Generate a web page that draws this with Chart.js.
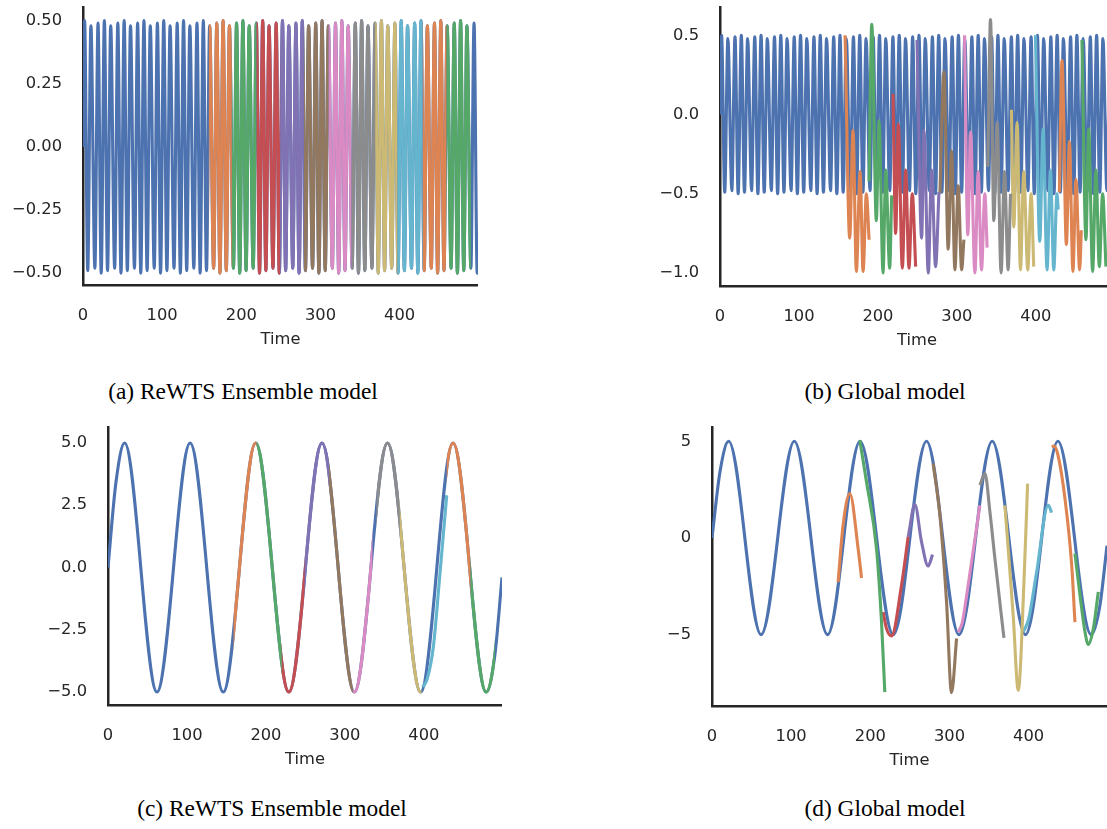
<!DOCTYPE html>
<html>
<head>
<meta charset="utf-8">
<script src="https://cdn.jsdelivr.net/npm/chart.js@4.4.1/dist/chart.umd.min.js"></script>
<style>
  html, body { margin: 0; padding: 0; width: 1107px; height: 829px; overflow: hidden; background: #fff; }
  canvas { position: absolute; }
  .cap {
    position: absolute; width: 400px; text-align: center; white-space: nowrap;
    font-family: "Liberation Serif", serif; font-size: 23.4px; line-height: 1; color: #000;
  }
</style>
</head>
<body>
<canvas id="pa"></canvas>
<canvas id="pb"></canvas>
<canvas id="pc"></canvas>
<canvas id="pd"></canvas>
<div class="cap" style="left:43px; top:380px">(a) ReWTS Ensemble model</div>
<div class="cap" style="left:685px; top:380px">(b) Global model</div>
<div class="cap" style="left:72px; top:797px">(c) ReWTS Ensemble model</div>
<div class="cap" style="left:685px; top:797px">(d) Global model</div>
<script>
// tick values
const timeTicks = [0, 100, 200, 300, 400];
const aTicks = [-0.5, -0.25, 0, 0.25, 0.5];
const bTicks = [-1, -0.5, 0, 0.5];
const cTicks = [-5, -2.5, 0, 2.5, 5];
const dTicks = [-5, 0, 5];

// fast sine (amplitude 0.5): turning points of the series, start and end
const fastT = [
  0,
  2, 6, 10, 15, 19, 23, 27, 31, 35, 40,
  44, 48, 52, 56, 60, 65, 69, 73, 77, 81,
  85, 90, 94, 98, 102, 106, 110, 115, 119, 123,
  127, 131, 135, 140, 144, 148, 152, 156, 160, 165,
  169, 173, 177, 181, 185, 190, 194, 198, 202, 206,
  210, 215, 219, 223, 227, 231, 235, 240, 244, 248,
  252, 256, 260, 265, 269, 273, 277, 281, 285, 290,
  294, 298, 302, 306, 310, 315, 319, 323, 327, 331,
  335, 340, 344, 348, 352, 356, 360, 365, 369, 373,
  377, 381, 385, 390, 394, 398, 402, 406, 410, 415,
  419, 423, 427, 431, 435, 440, 444, 448, 452, 456,
  460, 465, 469, 473, 477, 481, 485, 490, 494, 498,
  499
];
const fastY = [
  0,
  0.50, -0.49, 0.48, -0.48, 0.49, -0.50, 0.50, -0.49, 0.48, -0.48, 0.49, -0.50,
  0.50, -0.49, 0.48, -0.48, 0.49, -0.50, 0.50, -0.49, 0.48, -0.48, 0.49, -0.50,
  0.50, -0.49, 0.48, -0.48, 0.49, -0.50, 0.50, -0.49, 0.48, -0.48, 0.49, -0.50,
  0.50, -0.49, 0.48, -0.48, 0.49, -0.50, 0.50, -0.49, 0.48, -0.48, 0.49, -0.50,
  0.50, -0.49, 0.48, -0.48, 0.49, -0.50, 0.50, -0.49, 0.48, -0.48, 0.49, -0.50,
  0.50, -0.49, 0.48, -0.48, 0.49, -0.50, 0.50, -0.49, 0.48, -0.48, 0.49, -0.50,
  0.50, -0.49, 0.48, -0.48, 0.49, -0.50, 0.50, -0.49, 0.48, -0.48, 0.49, -0.50,
  0.50, -0.49, 0.48, -0.48, 0.49, -0.50, 0.50, -0.49, 0.48, -0.48, 0.49, -0.50,
  0.50, -0.49, 0.48, -0.48, 0.49, -0.50, 0.50, -0.49, 0.48, -0.48, 0.49, -0.50,
  0.50, -0.49, 0.48, -0.48, 0.49, -0.50, 0.50, -0.49, 0.48, -0.48, 0.49, -0.50,
  -0.34
];

// slow sine (amplitude 5)
const slowT = [0, 10, 21, 62, 104, 146, 187, 229, 271, 312, 354, 396, 437, 479, 490, 499];
const slowY = [0, 3.4, 5, -5, 5, -5, 5, -5, 5, -5, 5, -5, 5, -5, -3.5, -0.4];

// ensemble forecasts sit on the series: time windows only
const aWin = [[159, 188], [188, 219], [219, 249], [249, 279], [279, 310], [310, 339],
              [339, 369], [369, 397], [397, 429], [429, 459], [459, 490]];
const cWin = [[159, 188], [188, 220], [219, 249], [249, 280], [279, 310], [310, 335],
              [340, 369], [369, 397], [398, 429], [429, 459], [459, 490]];
// the cyan ensemble forecast in (c) lags the series
const cCyanT = [398.5, 404, 412, 420, 429];
const cCyanY = [-4.8, -4.5, -3.2, -0.4, 2.9];

// global model forecasts, fast series
const bFcT = [
  [158.4, 164.3, 168.5, 172.7, 177.4, 181.2, 185.4, 188.8],
  [188.8, 192.2, 198.0, 201.4, 206.5, 209.9, 214.9, 217.4],
  [219.1, 222.5, 225.8, 230.9, 235.1, 239.3, 243.5, 247.8],
  [249.5, 255.4, 258.3, 263.8, 268.0, 273.0, 277.3],
  [278.5, 283.6, 289.0, 293.3, 297.5, 301.7, 306.0, 308.9],
  [309.7, 313.9, 317.3, 322.8, 327.0, 331.2, 335.4, 338.3],
  [339.2, 342.6, 346.8, 351.0, 356.0, 360.3, 364.9, 367.9],
  [369.1, 372.0, 376.3, 380.5, 384.7, 389.8, 394.0, 397.3],
  [399.5, 405.0, 409.2, 414.2, 418.5, 422.7, 426.8, 428.3],
  [429.8, 433.2, 438.7, 442.5, 447.0, 450.8, 455.5, 457.6],
  [458.4, 463.5, 466.9, 471.9, 476.1, 480.4, 484.6, 488.8]
];
const bFcY = [
  [0.50, -0.78, -0.10, -0.99, -0.36, -0.99, -0.50, -0.79],
  [-0.42, 0.57, -0.67, -0.04, -1.00, -0.35, -0.97, -0.51],
  [0.13, -0.75, -0.06, -0.97, -0.35, -0.97, -0.50, -0.96],
  [0.47, -0.78, -0.10, -1.00, -0.35, -0.96, -0.49],
  [-0.50, 0.27, -0.85, -0.23, -0.98, -0.45, -0.98, -0.79],
  [0.50, -0.76, -0.11, -1.00, -0.36, -0.98, -0.50, -0.84],
  [-0.33, 0.60, -0.67, -0.05, -1.00, -0.36, -0.98, -0.50],
  [0.03, -0.71, -0.05, -0.98, -0.36, -0.98, -0.50, -0.96],
  [0.50, -0.80, -0.09, -0.98, -0.35, -0.98, -0.50, -0.60],
  [-0.49, 0.34, -0.82, -0.17, -0.99, -0.41, -0.98, -0.73],
  [0.47, -0.79, -0.09, -0.99, -0.35, -0.96, -0.50, -0.96]
];

// global model forecasts, slow series
const dFcT = [
  [159.3, 165.6, 174.1, 184.6, 188.9],
  [186.7, 195.2, 207.8, 214.1, 218.3],
  [216.2, 220.5, 226.8, 239.4, 247.8],
  [247.8, 256.3, 264.7, 273.1, 278.6],
  [279.4, 287.9, 296.3, 302.6, 309.0],
  [311.0, 316.0, 323.6, 338.4],
  [338.4, 344.8, 351.1, 357.4, 368.8],
  [370.0, 380.5, 386.9, 394.1, 398.7],
  [393.2, 400.0, 410.1, 424.8, 429.1],
  [429.1, 432.0, 437.0, 445.9, 454.4, 458.5],
  [458.5, 464.9, 471.2, 475.3, 481.7, 488.0]
];
const dFcY = [
  [-2.28, 0.66, 2.30, -0.55, -2.07],
  [5.05, 2.90, -0.55, -4.30, -7.97],
  [-3.83, -4.69, -5.07, -2.45, 0.05],
  [0.05, 1.73, -0.20, -1.45, -0.86],
  [3.85, 1.17, -3.31, -8.00, -5.20],
  [-4.86, -4.40, -2.45, 1.69],
  [2.73, 3.33, 1.35, -1.07, -5.17],
  [1.69, -4.00, -7.88, -2.28, 2.81],
  [-4.86, -4.20, -1.76, 1.69, 1.31],
  [4.71, 4.75, 4.30, 2.04, -1.41, -4.35],
  [-0.81, -2.96, -4.86, -5.51, -4.69, -2.79]
];

const deep = {
  blue: '#4C72B0', orange: '#DD8452', green: '#55A868', red: '#C44E52', purple: '#8172B3',
  brown: '#937860', pink: '#DA8BC3', gray: '#8C8C8C', olive: '#CCB974', cyan: '#64B5CD'
};
const fcColors = ['orange', 'green', 'red', 'purple', 'brown', 'pink', 'gray', 'olive', 'cyan', 'orange', 'green'];
const ink = '#262626';
const tickFont = { family: 'DejaVu Sans', size: 16.3 };

const pts = (ts, ys) => ts.map((t, i) => ({ x: t, y: ys[i] }));

function line(data, color, extra) {
  return Object.assign({
    data, borderColor: color, borderWidth: 3.1, pointRadius: 0, fill: false,
    cubicInterpolationMode: 'monotone', borderJoinStyle: 'round', order: 0
  }, extra || {});
}

// draws a dataset only inside its [t0, t1] time window
const windowClip = {
  id: 'windowClip',
  beforeDatasetDraw(chart, args) {
    const w = chart.data.datasets[args.index].window;
    if (!w) return;
    const xs = chart.scales.x, area = chart.chartArea, ctx = chart.ctx;
    const x0 = xs.getPixelForValue(w[0]), x1 = xs.getPixelForValue(w[1]);
    ctx.save();
    ctx.beginPath();
    ctx.rect(x0, area.top - 10, x1 - x0, area.bottom - area.top + 20);
    ctx.clip();
  },
  afterDatasetDraw(chart, args) {
    if (chart.data.datasets[args.index].window) chart.ctx.restore();
  }
};

function panel(id, box, y, datasets) {
  const W = 75, H = 65;
  const cv = document.getElementById(id);
  cv.width = box.right - box.left + W;
  cv.height = box.bottom - box.top + H;
  cv.style.left = (box.left - W) + 'px';
  cv.style.top = box.top + 'px';
  new Chart(cv, {
    type: 'line',
    data: { datasets },
    plugins: [windowClip],
    options: {
      responsive: false,
      animation: false,
      devicePixelRatio: 1,
      layout: { padding: 0 },
      plugins: { legend: { display: false }, tooltip: { enabled: false } },
      scales: {
        x: {
          type: 'linear', min: 0, max: 499,
          grid: { display: false, drawTicks: false },
          border: { color: ink, width: 2.5 },
          ticks: { padding: 21, maxRotation: 0, autoSkip: false, color: ink, font: tickFont },
          title: { display: true, text: 'Time', color: ink, font: tickFont, padding: 0 },
          afterBuildTicks(s) { s.ticks = timeTicks.map(v => ({ value: v })); },
          afterFit(s) { s.height = H; s.paddingLeft = 0; s.paddingRight = 0; }
        },
        y: {
          type: 'linear', min: y.min, max: y.max,
          grid: { display: false, drawTicks: false },
          border: { color: ink, width: 2.5 },
          ticks: {
            padding: 21, autoSkip: false, color: ink, font: tickFont,
            callback: v => v.toFixed(y.digits).replace('-', '\u2212')
          },
          afterBuildTicks(s) { s.ticks = y.ticks.map(v => ({ value: v })); },
          afterFit(s) { s.width = W; s.paddingTop = 0; s.paddingBottom = 0; }
        }
      }
    }
  });
}

const baseFast = () => line(pts(fastT, fastY), deep.blue, { order: 1 });
const baseSlow = () => line(pts(slowT, slowY), deep.blue, { order: 1 });

panel('pa', { left: 83, top: 6, right: 478, bottom: 285 },
  { min: -0.547, max: 0.558, ticks: aTicks, digits: 2 },
  [baseFast()].concat(aWin.map((w, i) => line(pts(fastT, fastY), deep[fcColors[i]], { window: w }))));

panel('pb', { left: 720, top: 6, right: 1114, bottom: 286 },
  { min: -1.082, max: 0.685, ticks: bTicks, digits: 1 },
  [baseFast()].concat(bFcT.map((ts, i) => line(pts(ts, bFcY[i]), deep[fcColors[i]]))));

panel('pc', { left: 108, top: 426, right: 502, bottom: 705 },
  { min: -5.52, max: 5.68, ticks: cTicks, digits: 1 },
  [baseSlow()].concat(cWin.map((w, i) => i === 8
    ? line(pts(cCyanT, cCyanY), deep[fcColors[i]])
    : line(pts(slowT, slowY), deep[fcColors[i]], { window: w }))));

panel('pd', { left: 712, top: 426, right: 1107, bottom: 706 },
  { min: -8.69, max: 5.79, ticks: dTicks, digits: 0 },
  [baseSlow()].concat(dFcT.map((ts, i) => line(pts(ts, dFcY[i]), deep[fcColors[i]]))));
</script>
</body>
</html>
